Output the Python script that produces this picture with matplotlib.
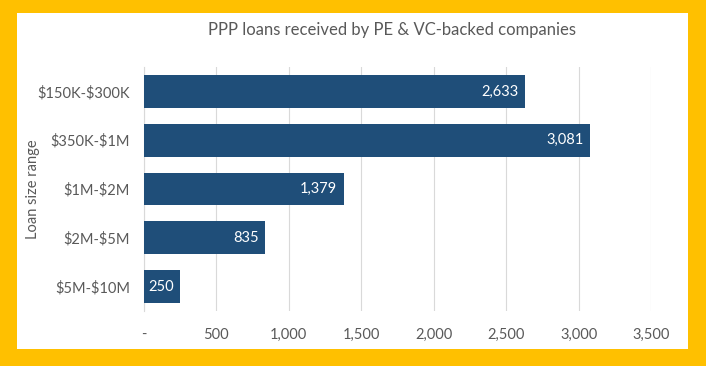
import matplotlib
matplotlib.use("Agg")
import matplotlib.pyplot as plt
from matplotlib.patches import Rectangle
from matplotlib.ticker import FuncFormatter

plt.rcParams['font.family'] = ['Lato', 'DejaVu Sans']
plt.rcParams['text.parse_math'] = False

categories = ["$150K-$300K", "$350K-$1M", "$1M-$2M", "$2M-$5M", "$5M-$10M"]
values = [2633, 3081, 1379, 835, 250]
xticks = [0, 500, 1000, 1500, 2000, 2500, 3000, 3500]

W, H = 706, 366
fig = plt.figure(figsize=(W/100, H/100), dpi=100)
fig.patch.set_facecolor('#FFC000')
fig.patches.append(Rectangle((17/W, 1-349/H), (688-17)/W, (349-13)/H,
                             transform=fig.transFigure, facecolor='white',
                             edgecolor='none', zorder=-10))

ax = fig.add_axes([144/W, 1-311/H, (651-144)/W, (311-67)/H])
ax.set_facecolor('none')
ypos = list(range(len(categories)))
bars = ax.barh(ypos, values, height=0.67, color='#1F4E79', zorder=3)
ax.set_ylim(len(categories)-0.5, -0.5)
ax.set_xlim(0, 3500)
ax.set_yticks(ypos)
ax.set_yticklabels(categories)
ax.set_xticks(xticks)
ax.xaxis.set_major_formatter(FuncFormatter(lambda v, p: '-' if v == 0 else f"{int(v):,}"))
ax.grid(axis='x', color='#D9D9D9', linewidth=0.8, zorder=0)
for s in ['top', 'right', 'bottom']:
    ax.spines[s].set_visible(False)
ax.spines['left'].set_color('#D9D9D9')
ax.tick_params(axis='both', length=0, colors='#595959', labelsize=10.5)
ax.tick_params(axis='y', pad=10)
ax.tick_params(axis='x', pad=12)

for b, v in zip(bars, values):
    ax.text(v - 45, b.get_y() + b.get_height()/2, f"{v:,}", ha='right', va='center',
            color='white', fontsize=10.5, zorder=4)

ax.set_ylabel('Loan size range', color='#595959', fontsize=10.5)
ax.yaxis.set_label_coords(-(144-40)/(651-144), 0.5)

fig.text(392/W, 1-30/H, 'PPP loans received by PE & VC-backed companies',
         ha='center', va='center', color='#595959', fontsize=12)

fig.savefig('out.png', dpi=100, facecolor=fig.get_facecolor())
